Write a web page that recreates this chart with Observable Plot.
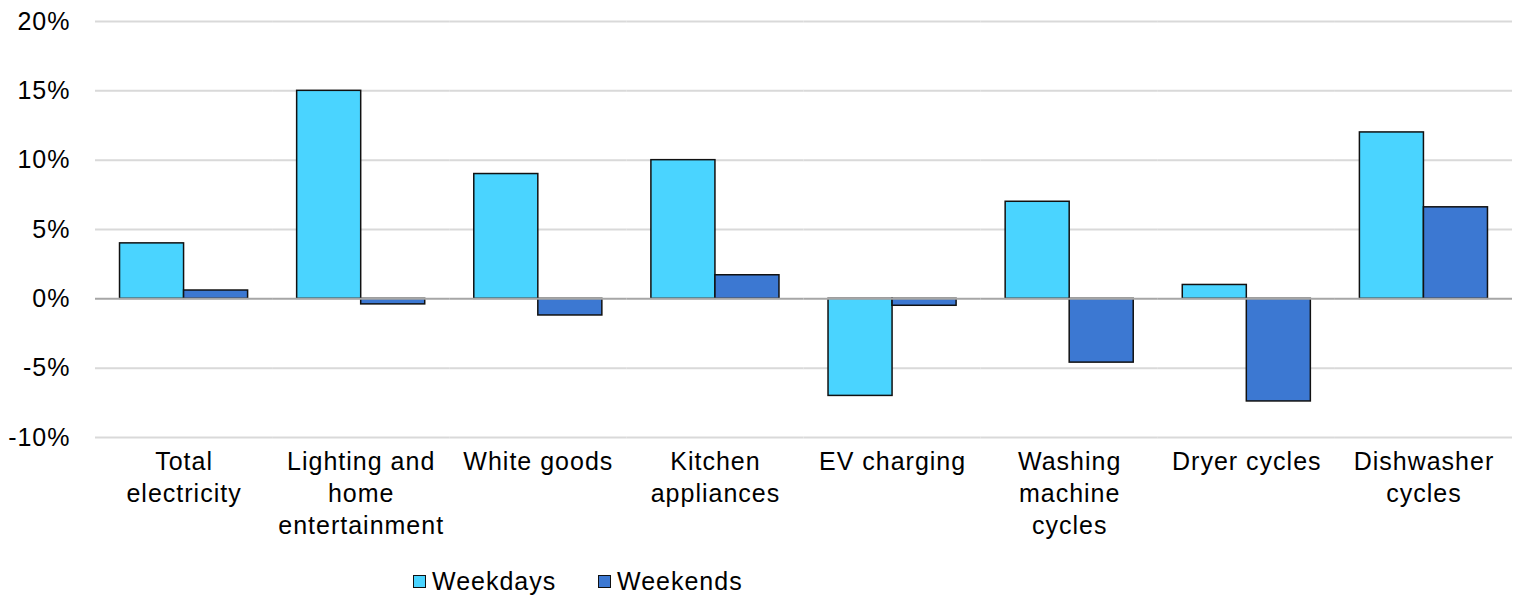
<!DOCTYPE html>
<html>
<head>
<meta charset="utf-8">
<script src="https://cdn.jsdelivr.net/npm/d3@7"></script>
<script src="https://cdn.jsdelivr.net/npm/@observablehq/plot@0.6"></script>
<style>
  html, body { margin: 0; padding: 0; background: #fff; }
  body { width: 1516px; height: 598px; overflow: hidden; font-family: "Liberation Sans", Arial, sans-serif; }
  svg text { letter-spacing: 1px; }
  #legend { position: relative; height: 32px; font-size: 25px; letter-spacing: 1px; color: #000; }
  .sw { position: absolute; top: 9px; width: 11px; height: 11px; border: 1.2px solid #111; }
  .lb { position: absolute; top: 1px; line-height: 28px; }
</style>
</head>
<body>
<div id="chart"></div>
<div id="legend"></div>
<script>
const categories = ["Total\nelectricity", "Lighting and\nhome\nentertainment", "White goods", "Kitchen\nappliances", "EV charging", "Washing\nmachine\ncycles", "Dryer cycles", "Dishwasher\ncycles"];
const series = ["Weekdays", "Weekends"];
const weekdays = [4.0, 15.0, 9.0, 10.0, -7.0, 7.0, 1.0, 12.0];
const weekends = [0.6, -0.4, -1.2, 1.7, -0.5, -4.6, -7.4, 6.6];
const yTicks = [-10, -5, 0, 5, 10, 15, 20];
const colors = ["#4ad4ff", "#3c78d2"];

const data = [];
categories.forEach((c, i) => {
  data.push({category: c, series: series[0], value: weekdays[i]});
  data.push({category: c, series: series[1], value: weekends[i]});
});

const chart = Plot.plot({
  width: 1516,
  height: 566,
  marginTop: 21,
  marginLeft: 95,
  marginRight: 4,
  marginBottom: 129,
  style: {fontFamily: "'Liberation Sans', Arial, sans-serif", fontSize: "25px", color: "#000", background: "#fff", overflow: "visible"},
  fx: {domain: categories, padding: 0, round: false, label: null, axis: null},
  x: {domain: series, paddingInner: 0, paddingOuter: 0.383, round: false, axis: null},
  y: {domain: [-10, 20], ticks: yTicks, label: null},
  color: {domain: series, range: colors},
  marks: [
    Plot.gridY(yTicks.filter(d => d !== 0), {stroke: "#d9d9d9", strokeWidth: 2, strokeOpacity: 1}),
    Plot.barY(data, {fx: "category", x: "series", y: "value", fill: "series", stroke: "#111", strokeWidth: 1.5}),
    Plot.ruleY([0], {stroke: "#a6a6a6", strokeWidth: 2}),
    Plot.axisY(yTicks, {tickSize: 0, tickPadding: 25, tickFormat: d => d + "%", fontSize: 25, fill: "#000"}),
    Plot.axisFx({anchor: "bottom", tickSize: 0, tickPadding: 10, fontSize: 25, lineHeight: 1.28, fill: "#000", label: null})
  ]
});
document.getElementById("chart").appendChild(chart);

const legend = document.getElementById("legend");
const positions = [[413, 432], [598, 617]];
series.forEach((s, i) => {
  const sw = document.createElement("div");
  sw.className = "sw";
  sw.style.left = positions[i][0] + "px";
  sw.style.background = colors[i];
  legend.appendChild(sw);
  const lb = document.createElement("div");
  lb.className = "lb";
  lb.style.left = positions[i][1] + "px";
  lb.textContent = s;
  legend.appendChild(lb);
});
</script>
</body>
</html>
